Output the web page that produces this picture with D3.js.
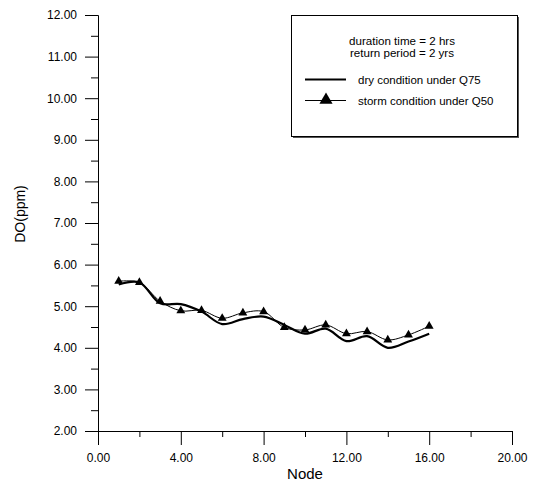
<!DOCTYPE html>
<html>
<head>
<meta charset="utf-8">
<script src="https://cdn.jsdelivr.net/npm/d3@7"></script>
<style>
  body { margin: 0; background: #fff; }
  text { font-family: Arial, "Liberation Sans", sans-serif; fill: #000; }
</style>
</head>
<body>
<svg id="chart" width="535" height="484"></svg>
<script>
var nodes = [1, 2, 3, 4, 5, 6, 7, 8, 9, 10, 11, 12, 13, 14, 15, 16]
var dryQ75 = [5.52, 5.57, 5.07, 5.05, 4.87, 4.57, 4.69, 4.75, 4.55, 4.34, 4.46, 4.16, 4.28, 4.0, 4.15, 4.34]
var stormQ50 = [5.6, 5.57, 5.12, 4.89, 4.9, 4.71, 4.84, 4.87, 4.49, 4.43, 4.55, 4.34, 4.39, 4.19, 4.31, 4.52]
var xMajor = [0, 4, 8, 12, 16, 20]
var xMinor = [2, 6, 10, 14, 18]
var yMajor = [2, 3, 4, 5, 6, 7, 8, 9, 10, 11, 12]
var yMinor = [2.5, 3.5, 4.5, 5.5, 6.5, 7.5, 8.5, 9.5, 10.5, 11.5]
var legendNotes = ["duration time = 2 hrs", "return period = 2 yrs"]
var seriesNames = ["dry condition under Q75", "storm condition under Q50"]

var svg = d3.select("#chart")
var x = d3.scaleLinear().domain([0, 20]).range([98, 512])
var y = d3.scaleLinear().domain([2, 12]).range([431, 15])
var fmt = d3.format(".2f")

// axes: majors with labels, minors shorter
function styleAxis(g) {
    g.selectAll("path,line").attr("stroke", "#000").attr("stroke-width", 1)
    g.selectAll("text").style("font-size", "12px")
}

svg.append("g").attr("transform", "translate(0," + y(2) + ")")
    .call(d3.axisBottom(x).tickValues(xMajor).tickFormat(fmt).tickSize(14).tickSizeOuter(0).tickPadding(8))
    .call(styleAxis)
svg.append("g").attr("transform", "translate(0," + y(2) + ")")
    .call(d3.axisBottom(x).tickValues(xMinor).tickFormat("").tickSize(6).tickSizeOuter(0))
    .call(styleAxis)
svg.append("g").attr("transform", "translate(" + x(0) + ",0)")
    .call(d3.axisLeft(y).tickValues(yMajor).tickFormat(fmt).tickSize(13).tickSizeOuter(0).tickPadding(8))
    .call(styleAxis)
svg.append("g").attr("transform", "translate(" + x(0) + ",0)")
    .call(d3.axisLeft(y).tickValues(yMinor).tickFormat("").tickSize(7).tickSizeOuter(0))
    .call(styleAxis)

svg.append("text").attr("x", 305).attr("y", 479).attr("text-anchor", "middle")
    .style("font-size", "15px").text("Node")
svg.append("text").attr("transform", "translate(25,214) rotate(-90)").attr("text-anchor", "middle")
    .style("font-size", "14px").text("DO(ppm)")

// series
var line = d3.line()
    .x(function(d, i) { return x(nodes[i]) })
    .y(function(d) { return y(d) })
    .curve(d3.curveCatmullRom.alpha(0.5))

svg.append("path").datum(dryQ75).attr("d", line)
    .attr("fill", "none").attr("stroke", "#000").attr("stroke-width", 2.2)
svg.append("path").datum(stormQ50).attr("d", line)
    .attr("fill", "none").attr("stroke", "#000").attr("stroke-width", 1)

var tri = d3.symbol().type(d3.symbolTriangle)
svg.selectAll(".mark").data(stormQ50).enter().append("path")
    .attr("class", "mark")
    .attr("d", tri.size(34))
    .attr("transform", function(d, i) { return "translate(" + x(nodes[i]) + "," + y(d) + ")" })
    .attr("fill", "#000")

// legend
var lg = svg.append("g")
lg.append("rect").attr("x", 293).attr("y", 17).attr("width", 226).attr("height", 121).attr("fill", "#555")
lg.append("rect").attr("x", 291.5).attr("y", 15.5).attr("width", 226).attr("height", 121)
    .attr("fill", "#fff").attr("stroke", "#000")
lg.selectAll(".note").data(legendNotes).enter().append("text")
    .attr("x", 402).attr("y", function(d, i) { return 45 + i * 12 })
    .attr("text-anchor", "middle").style("font-size", "11.6px").text(function(d) { return d })
lg.append("line").attr("x1", 305).attr("x2", 346).attr("y1", 79.5).attr("y2", 79.5)
    .attr("stroke", "#000").attr("stroke-width", 2)
lg.append("line").attr("x1", 305).attr("x2", 346).attr("y1", 100.5).attr("y2", 100.5)
    .attr("stroke", "#000").attr("stroke-width", 1)
lg.append("path").attr("d", tri.size(75)).attr("transform", "translate(326,100)").attr("fill", "#000")
lg.selectAll(".name").data(seriesNames).enter().append("text")
    .attr("x", 358).attr("y", function(d, i) { return 83.5 + i * 21 })
    .style("font-size", "11.5px").text(function(d) { return d })
</script>
</body>
</html>
